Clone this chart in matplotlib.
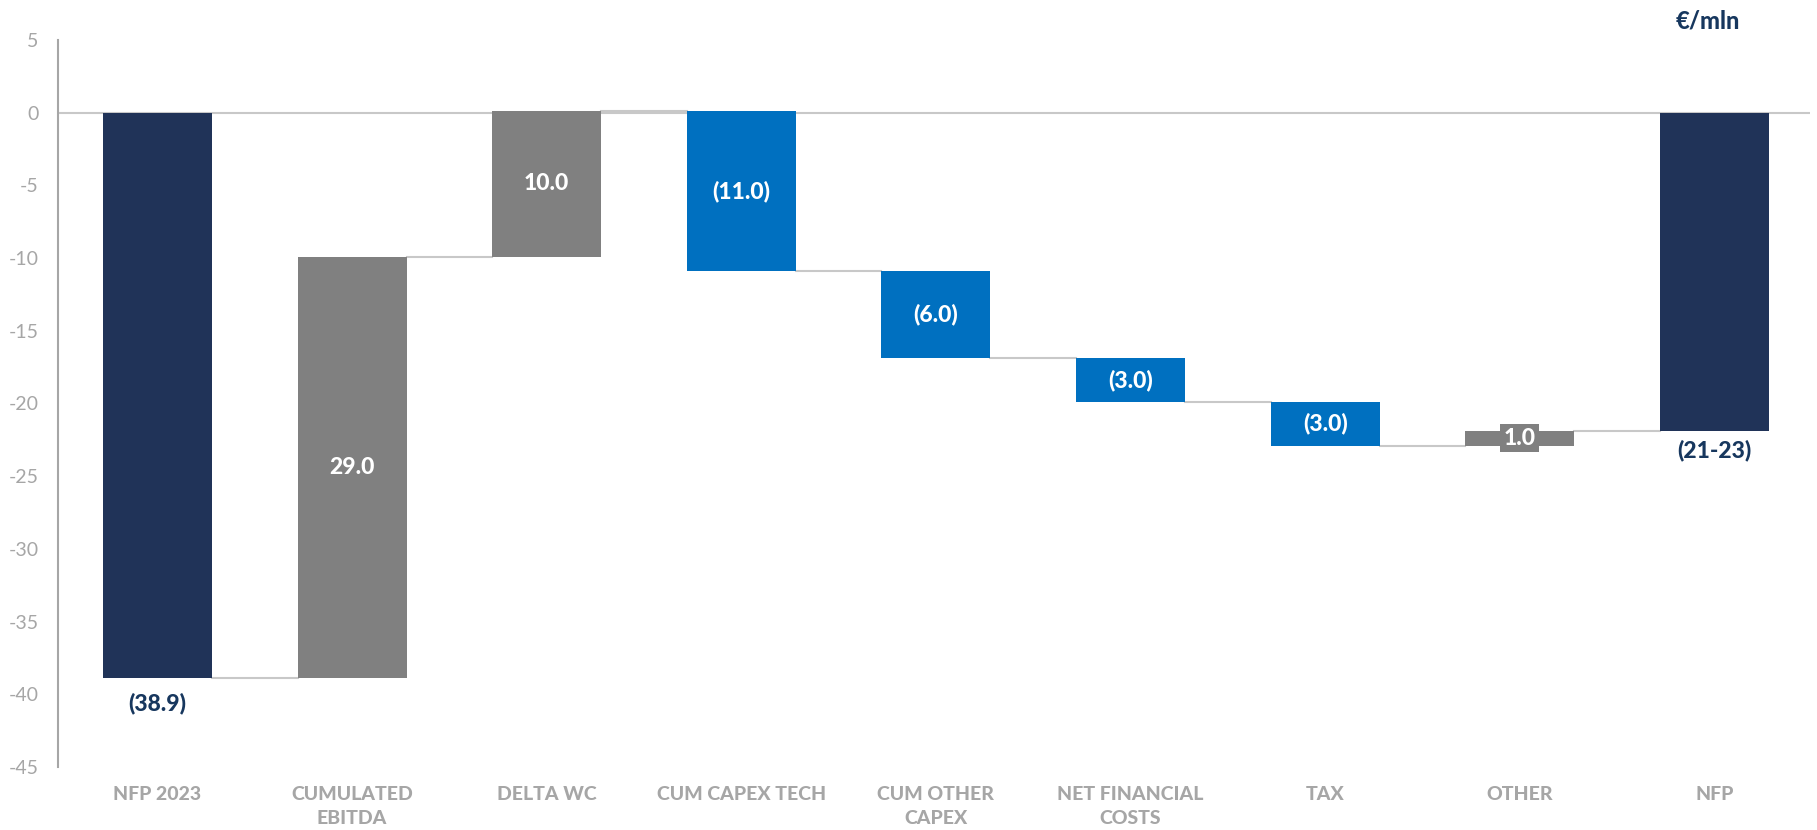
import numpy as np
import matplotlib.pyplot as plt

plt.rcParams['font.family'] = ['Lato', 'DejaVu Sans']
plt.rcParams['axes.unicode_minus'] = False

categories = ["NFP 2023", "CUMULATED\nEBITDA", "DELTA WC", "CUM CAPEX TECH",
              "CUM OTHER\nCAPEX", "NET FINANCIAL\nCOSTS", "TAX", "OTHER", "NFP"]
start_value = -38.9
changes = [29.0, 10.0, -11.0, -6.0, -3.0, -3.0, 1.0]
end_value = -21.9
end_label = "(21-23)"

NAVY = '#203358'
GREY = '#808080'
BLUE = '#0070c0'
TEXT_NAVY = '#17375e'
AXIS_GREY = '#a6a6a6'
LINE_GREY = '#c8c8c8'
HEAVY = 900


def fmt(v):
    return f"{v:.1f}" if v >= 0 else f"({abs(v):.1f})"


fig = plt.figure(figsize=(18.17, 8.30), dpi=100)
ax = fig.add_axes([0.032, 0.076, 0.964, 0.876])

x = np.arange(len(categories))
width = 0.56

# running totals between steps
levels = [start_value]
for c in changes:
    levels.append(levels[-1] + c)

ax.axhline(0, color=LINE_GREY, lw=1.5, zorder=1)

# opening and closing totals
ax.bar(x[0], start_value, width, color=NAVY, zorder=2)
ax.bar(x[-1], end_value, width, color=NAVY, zorder=2)
ax.text(x[0], start_value - 1.0, fmt(start_value), ha='center', va='top',
        color=TEXT_NAVY, fontsize=16.5, fontweight=HEAVY)
ax.text(x[-1], end_value - 0.6, end_label, ha='center', va='top',
        color=TEXT_NAVY, fontsize=16.5, fontweight=HEAVY)

# floating steps
for i, c in enumerate(changes):
    pos = x[i + 1]
    bottom = levels[i]
    color = GREY if c > 0 else BLUE
    ax.bar(pos, c, width, bottom=bottom, color=color, zorder=2)
    mid = bottom + c / 2
    if abs(c) < 2:
        ax.text(pos, mid, fmt(c), ha='center', va='center', color='white',
                fontsize=16.5, fontweight=HEAVY, zorder=3,
                bbox=dict(boxstyle='square,pad=0.15', fc=color, ec='none'))
    else:
        ax.text(pos, mid, fmt(c), ha='center', va='center', color='white',
                fontsize=16.5, fontweight=HEAVY, zorder=3)

# connectors from one bar to the next
for i in range(len(categories) - 1):
    lvl = levels[i] if i < len(levels) else end_value
    ax.plot([x[i] + width / 2, x[i + 1] - width / 2], [lvl, lvl],
            color=LINE_GREY, lw=1.5, zorder=1)

ax.set_xlim(-0.51, 8.49)
ax.set_ylim(-45, 5)
ax.set_yticks(np.arange(-45, 6, 5))
ax.set_xticks(x)
ax.set_xticklabels(categories, fontsize=14, fontweight=HEAVY, color=AXIS_GREY,
                   linespacing=1.5, va='top')
ax.tick_params(axis='both', length=0)
ax.tick_params(axis='y', labelsize=14, labelcolor=AXIS_GREY, pad=14)
ax.tick_params(axis='x', pad=14)

for side in ['top', 'right', 'bottom']:
    ax.spines[side].set_visible(False)
ax.spines['left'].set_color(AXIS_GREY)
ax.spines['left'].set_linewidth(1.5)

fig.text(0.94, 0.975, "€/mln", ha='center', va='center', color=TEXT_NAVY,
         fontsize=17, fontweight=HEAVY)

fig.savefig('out.png', dpi=100)
